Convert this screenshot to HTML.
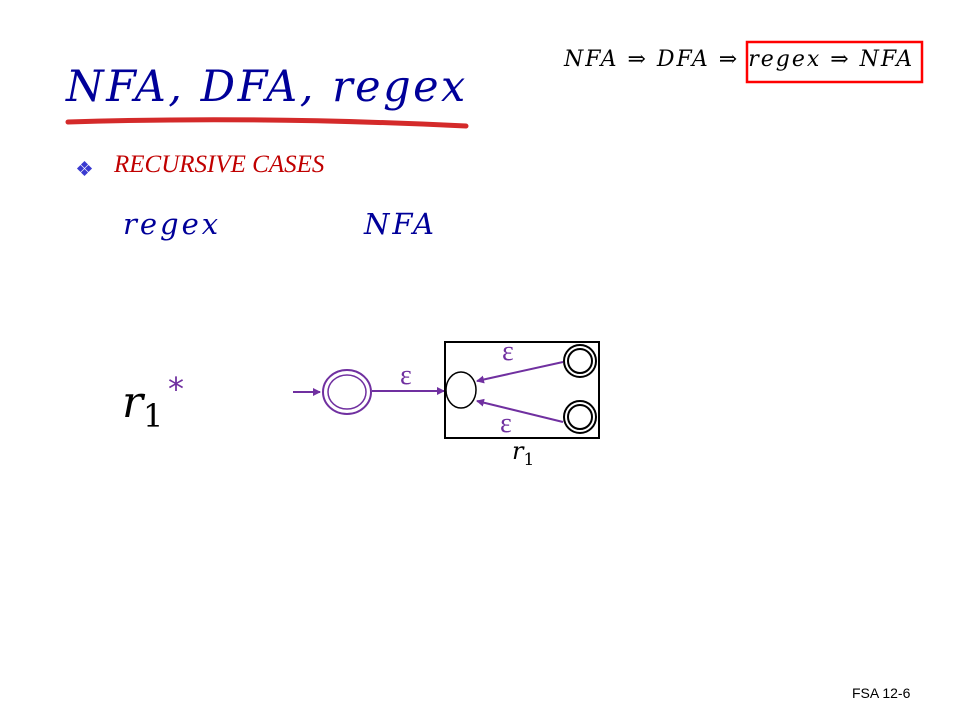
<!DOCTYPE html>
<html><head><meta charset="utf-8"><style>
body{margin:0;width:960px;height:720px;background:#fff;position:relative;overflow:hidden;font-family:"Liberation Serif",serif}
.a{position:absolute;white-space:nowrap}
.m{font-family:"DejaVu Serif","Liberation Serif",serif;font-style:italic}
</style></head><body>
<div class="a m" style="left:66px;top:62px;font-size:43px;color:#000099;letter-spacing:2.5px">NFA, DFA, regex</div>
<svg class="a" style="left:0;top:0" width="960" height="720">
<path d="M68,122 Q260,116 466,126" stroke="#d42a2a" stroke-width="5" fill="none" stroke-linecap="round"/>
<rect x="747" y="42" width="175" height="40" fill="none" stroke="#f00" stroke-width="2.5"/>
<g fill="#3a3ad0"><rect x="82" y="162" width="5" height="5" transform="rotate(45 84.5 164.5)"/><rect x="82" y="170" width="5" height="5" transform="rotate(45 84.5 172.5)"/><rect x="78" y="166" width="5" height="5" transform="rotate(45 80.5 168.5)"/><rect x="86" y="166" width="5" height="5" transform="rotate(45 88.5 168.5)"/></g>
<defs><marker id="ar" markerWidth="8" markerHeight="8" refX="7" refY="4" orient="auto" markerUnits="userSpaceOnUse"><path d="M0,0 L8,4 L0,8z" fill="#7030a0"/></marker></defs>
<line x1="293" y1="392" x2="320" y2="392" stroke="#7030a0" stroke-width="2" marker-end="url(#ar)"/>
<ellipse cx="347" cy="392" rx="24" ry="22" fill="none" stroke="#7030a0" stroke-width="2"/>
<ellipse cx="347" cy="392" rx="19" ry="17" fill="none" stroke="#7030a0" stroke-width="1.5"/>
<line x1="372" y1="391" x2="444" y2="391" stroke="#7030a0" stroke-width="2" marker-end="url(#ar)"/>
<rect x="445" y="342" width="154" height="96" fill="none" stroke="#000" stroke-width="2"/>
<ellipse cx="461" cy="390" rx="15" ry="18" fill="none" stroke="#000" stroke-width="1.5"/>
<circle cx="580" cy="361" r="16" fill="none" stroke="#000" stroke-width="2"/>
<circle cx="580" cy="361" r="12" fill="none" stroke="#000" stroke-width="2"/>
<circle cx="580" cy="417" r="16" fill="none" stroke="#000" stroke-width="2"/>
<circle cx="580" cy="417" r="12" fill="none" stroke="#000" stroke-width="2"/>
<line x1="563" y1="362" x2="477" y2="381" stroke="#7030a0" stroke-width="2" marker-end="url(#ar)"/>
<line x1="563" y1="422" x2="477" y2="401" stroke="#7030a0" stroke-width="2" marker-end="url(#ar)"/>
</svg>
<div class="a m" style="left:564px;top:47px;font-size:22px;letter-spacing:2px">NFA ⇒ DFA ⇒ regex ⇒ NFA</div>
<div class="a" style="left:114px;top:151px;font-size:25px;font-style:italic;color:#c00000;letter-spacing:0">RECURSIVE CASES</div>
<div class="a m" style="left:123px;top:207px;font-size:29px;color:#000099;letter-spacing:3px">regex</div>
<div class="a m" style="left:364px;top:207px;font-size:29px;color:#000099;letter-spacing:3px">NFA</div>
<div class="a m" style="left:122px;top:377px;font-size:44px">r<span style="font-style:normal;font-size:32px;position:relative;top:10px">1</span></div>
<div class="a" style="left:168px;top:370px;font-size:32px;color:#7030a0;font-family:'DejaVu Sans',sans-serif">*</div>
<div class="a" style="left:400px;top:360px;font-size:28px;color:#7030a0">ε</div>
<div class="a" style="left:502px;top:336px;font-size:28px;color:#7030a0">ε</div>
<div class="a" style="left:500px;top:408px;font-size:28px;color:#7030a0">ε</div>
<div class="a m" style="left:512px;top:437px;font-size:24px">r<span style="font-style:normal;font-size:17px;position:relative;top:6px">1</span></div>
<div class="a" style="left:852px;top:685px;font-size:14px;font-family:'Liberation Sans',sans-serif">FSA 12-6</div>
</body></html>
